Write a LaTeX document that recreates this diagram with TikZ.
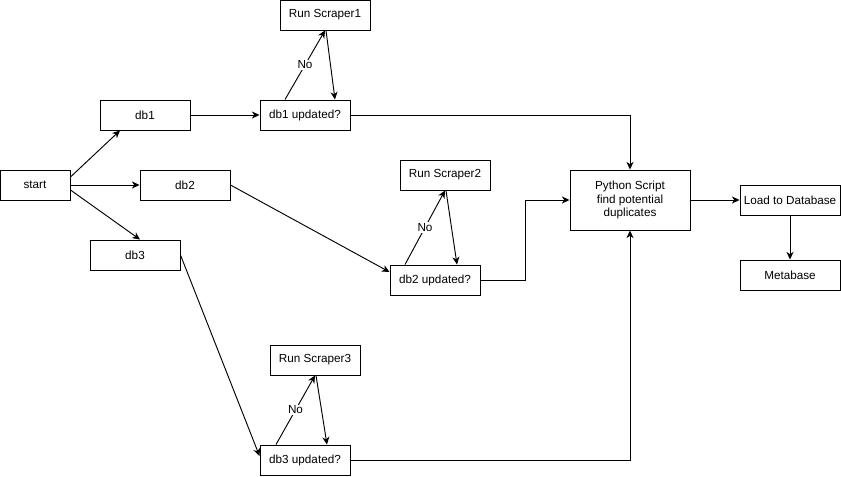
\documentclass[tikz,border=0pt]{standalone}
\usepackage{fontspec}
\setmainfont{Liberation Sans}
\usetikzlibrary{calc,arrows.meta}

\tikzset{
  box/.style={draw, line width=0.8pt, fill=white, minimum width=2.7cm, minimum height=0.9cm,
    inner sep=1pt, align=center, font=\fontsize{10}{11.5}\selectfont},
  flow/.style={line width=0.8pt, -{Stealth[length=6.5pt, width=6pt, inset=2pt]}},
  nolabel/.style={fill=white, inner sep=1pt, font=\fontsize{10}{11.5}\selectfont},
}

\begin{document}
\begin{tikzpicture}[x=0.03cm, y=-0.03cm]
		\useasboundingbox (0,0) rectangle (841,476);
		%%%%% BOXES %%%%%
		\node[box, minimum width=2.1cm] (start) at (35,185) {start};
		\node[box] (db1) at (145,115) {db1};
		\node[box] (db2) at (185,185) {db2};
		\node[box] (db3) at (135,255) {db3};
		
		\node[box] (scr1) at (325,15) {Run Scraper1};
		\node[box] (db1u) at (305,115) {db1 updated?};
		\node[box] (scr2) at (445,175) {Run Scraper2};
		\node[box] (db2u) at (435,280) {db2 updated?};
		\node[box] (scr3) at (315,360) {Run Scraper3};
		\node[box] (db3u) at (305,460) {db3 updated?};
		
		\node[box, minimum width=3.6cm, minimum height=1.8cm] (py) at (630,200) {Python Script\\find potential\\duplicates};
		\node[box, minimum width=3cm] (load) at (790,200) {Load to Database};
		\node[box, minimum width=3cm] (meta) at (790,275) {Metabase};
		
		%%%%% ARROWS %%%%%
		\draw[flow] ($(start.east)+(0,-8)$) -- ($(db1.south)+(-25,0)$);
		\draw[flow] (start.east) -- (db2.west);
		\draw[flow] ($(start.east)+(0,5)$) -- ($(db3.north)+(5,0)$);
		
		\draw[flow] (db1.east) -- (db1u.west);
		\draw[flow] ($(db1u.north)+(-20,0)$) -- node[nolabel] {No} (scr1.south);
		\draw[flow] ($(scr1.south)+(1,0)$) -- ($(db1u.north)+(30,0)$);
		\draw[flow] (db1u.east) -| (py.north);
		
		\draw[flow] (db2.east) -- ($(db2u.west)+(0,-8)$);
		\draw[flow] ($(db2u.north)+(-30,0)$) -- node[nolabel] {No} (scr2.south);
		\draw[flow] ($(scr2.south)+(1,0)$) -- ($(db2u.north)+(22,0)$);
		\draw[flow] (db2u.east) -- ++(45,0) |- (py.west);
		
		\draw[flow] (db3.east) -- ($(db3u.west)+(0,-4)$);
		\draw[flow] ($(db3u.north)+(-29,0)$) -- node[nolabel] {No} (scr3.south);
		\draw[flow] ($(scr3.south)+(1,0)$) -- ($(db3u.north)+(22,0)$);
		\draw[flow] (db3u.east) -| (py.south);
		
		\draw[flow] (py.east) -- (load.west);
		\draw[flow] (load.south) -- (meta.north);
	\end{tikzpicture}
\end{document}
